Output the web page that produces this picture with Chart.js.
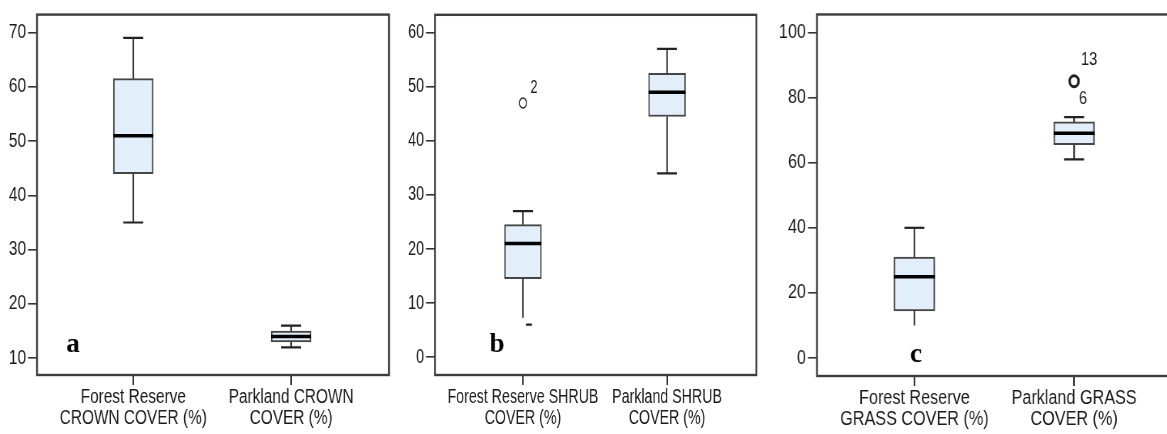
<!DOCTYPE html>
<html>
<head>
<meta charset="utf-8">
<script src="https://cdn.jsdelivr.net/npm/chart.js@4.4.1/dist/chart.umd.min.js"></script>
<style>
  html, body { margin: 0; padding: 0; background: #fff; overflow: hidden; width: 1167px; height: 434px; position: relative; }
  canvas { position: absolute; top: 0; }
</style>
</head>
<body>
<canvas id="chartA" style="left:0px"></canvas>
<canvas id="chartB" style="left:395px"></canvas>
<canvas id="chartC" style="left:772px"></canvas>
<script>
// --- data ---
const crownLabels = [['Forest Reserve', 'CROWN COVER (%)'], ['Parkland CROWN', 'COVER (%)']];
const crownMin = [35, 12];
const crownQ1 = [44, 13];
const crownMedian = [51, 14];
const crownQ3 = [61.5, 15];
const crownMax = [69, 16];
const crownTicks = [10, 20, 30, 40, 50, 60, 70];

const shrubLabels = [['Forest Reserve SHRUB', 'COVER (%)'], ['Parkland SHRUB', 'COVER (%)']];
const shrubMin = [6, 34];
const shrubQ1 = [14.5, 44.5];
const shrubMedian = [21, 49];
const shrubQ3 = [24.5, 52.5];
const shrubMax = [27, 57];
const shrubOutX = [0];
const shrubOutY = [47];
const shrubOutIds = [['2']];
const shrubTicks = [0, 10, 20, 30, 40, 50, 60];

const grassLabels = [['Forest Reserve', 'GRASS COVER (%)'], ['Parkland GRASS', 'COVER (%)']];
const grassMin = [10, 61];
const grassQ1 = [14.5, 65.5];
const grassMedian = [25, 69];
const grassQ3 = [31, 72.5];
const grassMax = [40, 74];
const grassOutX = [1];
const grassOutY = [85];
const grassOutIds = [['13', '6']];
const grassTicks = [0, 20, 40, 60, 80, 100];

const FONT = "'Liberation Sans', Arial, sans-serif";
Chart.defaults.font.family = FONT;
Chart.defaults.color = '#1a1a1a';

// the source figure has narrow (horizontally squeezed) type, so each canvas is
// drawn wider than shown and squeezed by css; S is that squeeze per panel
function makePanel(id, p) {
  const canvas = document.getElementById(id);
  const S = p.S;
  const h = v => v / S;   // screen px -> canvas px, horizontal only
  canvas.width = Math.round(p.dispW / S);
  canvas.height = 434;
  canvas.style.width = p.dispW + 'px';
  canvas.style.height = '434px';

  new Chart(canvas, {
    type: 'bar',
    data: {
      datasets: [
        {
          type: 'bar',
          data: p.q1.map((q, i) => ({ x: i, y: [q, p.q3[i]] })),
          backgroundColor: '#e3eefb',
          borderColor: '#454545',
          borderWidth: 2,
          borderSkipped: false,
          barThickness: h(p.boxW)
        },
        {
          type: 'scatter',
          data: p.outX.map((v, i) => ({ x: v, y: p.outY[i] })),
          pointStyle: 'circle',
          radius: p.outR,
          backgroundColor: 'rgba(0,0,0,0)',
          borderColor: '#222',
          borderWidth: p.outW
        }
      ]
    },
    options: {
      responsive: false,
      animation: false,
      devicePixelRatio: 1,
      layout: { padding: { top: 11, right: h(p.padRight), left: 0, bottom: 0 } },
      plugins: { legend: { display: false }, tooltip: { enabled: false } },
      scales: {
        x: {
          type: 'linear',
          min: -0.61,
          max: 1.62,
          offset: false,
          afterBuildTicks: s => { s.ticks = [{ value: 0 }, { value: 1 }]; },
          afterFit: s => { s.height = p.xAxisH; },
          grid: { drawOnChartArea: false, offset: false, tickLength: 10, color: '#333', lineWidth: 2 },
          border: { display: false },
          ticks: {
            maxRotation: 0,
            autoSkip: false,
            padding: 2,
            color: '#1a1a1a',
            font: { size: 20, lineHeight: 1.05 },
            callback: (v) => p.labels[v]
          }
        },
        y: {
          min: p.yMin,
          max: p.yMax,
          beginAtZero: false,
          afterBuildTicks: s => { s.ticks = p.yTicks.map(v => ({ value: v })); },
          afterFit: s => { s.width = h(p.yAxisW); },
          grid: { drawOnChartArea: false, tickLength: h(9), color: '#333', lineWidth: 1.6 },
          border: { display: false },
          ticks: { padding: h(2), color: '#1a1a1a', font: { size: 20 } }
        }
      }
    },
    plugins: [{
      id: 'boxExtras',
      afterDatasetsDraw(chart) {
        const { ctx, chartArea: a, scales: { x, y } } = chart;
        ctx.save();
        // plot frame
        ctx.strokeStyle = '#3c3c3c';
        ctx.lineWidth = 2.4;
        ctx.strokeRect(a.left, a.top, a.right - a.left, a.bottom - a.top);

        p.q1.forEach((q1, i) => {
          const cx = x.getPixelForValue(i);
          const cap = p.caps[i];
          const yMax = y.getPixelForValue(p.max[i]);
          const yMin = y.getPixelForValue(p.min[i]);
          // whiskers
          ctx.strokeStyle = '#333';
          ctx.lineWidth = 2;
          ctx.beginPath();
          ctx.moveTo(cx, y.getPixelForValue(p.q3[i]));
          ctx.lineTo(cx, yMax);
          ctx.moveTo(cx, y.getPixelForValue(q1));
          ctx.lineTo(cx, yMin - (cap.lowGap || 0));
          ctx.stroke();
          // caps
          ctx.lineWidth = 2.2;
          ctx.strokeStyle = '#222';
          ctx.beginPath();
          if (cap.top) { ctx.moveTo(cx - h(cap.top / 2), yMax); ctx.lineTo(cx + h(cap.top / 2), yMax); }
          if (cap.low) {
            const dx = h(cap.lowDx || 0);
            ctx.moveTo(cx + dx - h(cap.low / 2), yMin); ctx.lineTo(cx + dx + h(cap.low / 2), yMin);
          }
          ctx.stroke();
          // median
          ctx.strokeStyle = '#000';
          ctx.lineWidth = 3.5;
          const ym = y.getPixelForValue(p.median[i]);
          ctx.beginPath();
          ctx.moveTo(cx - h(p.boxW / 2), ym);
          ctx.lineTo(cx + h(p.boxW / 2), ym);
          ctx.stroke();
        });

        // outlier case numbers
        ctx.fillStyle = '#1a1a1a';
        ctx.font = '18px ' + FONT;
        ctx.textAlign = 'center';
        ctx.textBaseline = 'middle';
        p.outX.forEach((v, i) => {
          const px = x.getPixelForValue(v);
          const py = y.getPixelForValue(p.outY[i]);
          p.outIds[i].forEach((t, k) => {
            const o = p.outIdPos[k];
            ctx.fillText(t, px + h(o.dx), py + o.dy);
          });
        });

        // panel letter, not squeezed
        ctx.font = "bold 27px 'Liberation Serif', 'Times New Roman', serif";
        ctx.fillStyle = '#000';
        ctx.translate(a.left + h(p.letterPos.dx), a.bottom + p.letterPos.dy);
        ctx.scale(1 / S, 1);
        ctx.fillText(p.letter, 0, 0);
        ctx.restore();
      }
    }]
  });
}

makePanel('chartA', {
  labels: crownLabels, min: crownMin, q1: crownQ1, median: crownMedian, q3: crownQ3, max: crownMax,
  outX: [], outY: [], outIds: [], outIdPos: [],
  yTicks: crownTicks, yMin: 6.9, yMax: 73.3,
  S: 0.77, dispW: 392,
  yAxisW: 37, xAxisH: 59, padRight: 3, boxW: 40, outR: 5, outW: 2,
  caps: [{ top: 20, low: 20 }, { top: 20, low: 20 }],
  letter: 'a', letterPos: { dx: 36, dy: -30 }
});

makePanel('chartB', {
  labels: shrubLabels, min: shrubMin, q1: shrubQ1, median: shrubMedian, q3: shrubQ3, max: shrubMax,
  outX: shrubOutX, outY: shrubOutY, outIds: shrubOutIds, outIdPos: [{ dx: 11, dy: -15 }],
  yTicks: shrubTicks, yMin: -3.3, yMax: 63.3,
  S: 0.71, dispW: 366,
  yAxisW: 40, xAxisH: 59, padRight: 3, boxW: 37, outR: 5, outW: 1.5,
  caps: [{ top: 20, low: 6, lowDx: 6, lowGap: 7 }, { top: 20, low: 20 }],
  letter: 'b', letterPos: { dx: 62, dy: -30 }
});

makePanel('chartC', {
  labels: grassLabels, min: grassMin, q1: grassQ1, median: grassMedian, q3: grassQ3, max: grassMax,
  outX: grassOutX, outY: grassOutY, outIds: grassOutIds, outIdPos: [{ dx: 15, dy: -21 }, { dx: 9, dy: 18 }],
  yTicks: grassTicks, yMin: -5.5, yMax: 105.5,
  S: 0.81, dispW: 408,
  yAxisW: 45, xAxisH: 58, padRight: 4, boxW: 41, outR: 5.5, outW: 3,
  caps: [{ top: 20, low: 0 }, { top: 20, low: 20 }],
  letter: 'c', letterPos: { dx: 99, dy: -21 }
});
</script>
</body>
</html>
